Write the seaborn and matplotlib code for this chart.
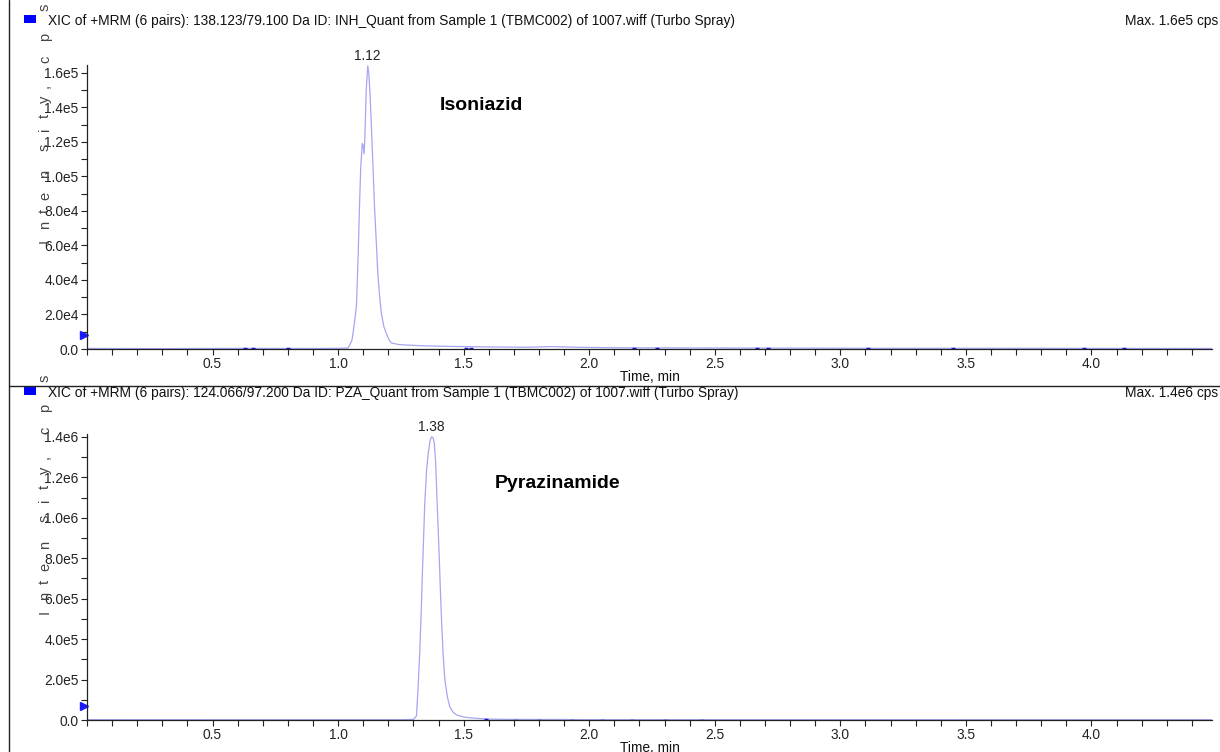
import matplotlib
matplotlib.use("Agg")
import matplotlib.pyplot as plt
import matplotlib.ticker as mticker
import matplotlib.transforms as mtransforms
from matplotlib.lines import Line2D
from matplotlib.patches import Rectangle
import seaborn as sns
import pandas as pd

# ---- data ----
inh_time = [0.00, 0.30, 0.60, 0.90, 1.00, 1.04, 1.055, 1.065, 1.073, 1.080, 1.085, 1.090,
            1.096, 1.100, 1.103, 1.106, 1.112, 1.118, 1.122, 1.127, 1.132, 1.139, 1.145,
            1.152, 1.158, 1.165, 1.172, 1.182, 1.192, 1.202, 1.212, 1.24, 1.27, 1.35,
            1.45, 1.60, 1.75, 1.85, 1.95, 2.10, 2.40, 2.80, 3.20, 3.60, 4.00, 4.48]
inh_intensity = [300, 250, 350, 300, 400, 600, 5000, 15000, 25000, 55000, 82000, 105000,
                 119000, 118000, 113000, 120000, 150000, 164000, 160000, 148000, 131000,
                 105000, 82000, 62000, 44000, 31000, 21000, 13000, 9000, 5500, 3500, 2600,
                 2300, 1800, 1500, 1200, 1000, 1400, 1000, 700, 600, 500, 400, 400, 350, 300]

pza_time = [0.00, 0.50, 1.00, 1.25, 1.30, 1.312, 1.318, 1.325, 1.331, 1.336, 1.345, 1.352,
            1.359, 1.366, 1.372, 1.378, 1.383, 1.388, 1.392, 1.397, 1.402, 1.407, 1.412,
            1.418, 1.425, 1.435, 1.445, 1.458, 1.472, 1.50, 1.525, 1.56, 1.59, 1.65, 1.80,
            2.00, 2.50, 3.00, 3.50, 4.00, 4.48]
pza_intensity = [2000, 1500, 1500, 1500, 3000, 20000, 150000, 330000, 540000, 740000,
                 1070000, 1230000, 1320000, 1380000, 1400000, 1395000, 1370000, 1280000,
                 1150000, 990000, 830000, 650000, 490000, 330000, 200000, 115000, 64000,
                 38000, 25000, 15000, 11000, 7500, 5000, 3500, 2500, 2000, 1800, 1600,
                 1500, 1500, 1500]

# darker blue noise bits along the baseline
inh_noise_t = [0.63, 0.66, 0.80, 1.51, 1.53, 2.18, 2.27, 2.67, 2.71, 3.11, 3.45, 3.97, 4.13]
inh_noise_y = [300, 300, 300, 600, 600, 300, 300, 300, 300, 300, 300, 300, 300]
pza_noise_t = [1.59, 1.71, 1.80, 1.93, 2.05, 2.17, 2.30, 2.45]
pza_noise_y = [2500, 2000, 1500, 1500, 1500, 1500, 1500, 1500]

inh_peak = 1.12
pza_peak = 1.38
inh_marker = 8000
pza_marker = 70000

inh_yticks = [0, 20000, 40000, 60000, 80000, 100000, 120000, 140000, 160000]
inh_ylabels = ["0.0", "2.0e4", "4.0e4", "6.0e4", "8.0e4", "1.0e5", "1.2e5", "1.4e5", "1.6e5"]
pza_yticks = [0, 200000, 400000, 600000, 800000, 1000000, 1200000, 1400000]
pza_ylabels = ["0.0", "2.0e5", "4.0e5", "6.0e5", "8.0e5", "1.0e6", "1.2e6", "1.4e6"]
xticks = [0.5, 1.0, 1.5, 2.0, 2.5, 3.0, 3.5, 4.0]

inh_header = "XIC of +MRM (6 pairs): 138.123/79.100 Da ID: INH_Quant from Sample 1 (TBMC002) of 1007.wiff (Turbo Spray)"
pza_header = "XIC of +MRM (6 pairs): 124.066/97.200 Da ID: PZA_Quant from Sample 1 (TBMC002) of 1007.wiff (Turbo Spray)"

inh_df = pd.DataFrame({"time": inh_time, "intensity": inh_intensity})
pza_df = pd.DataFrame({"time": pza_time, "intensity": pza_intensity})

sns.set_theme(style="ticks")
plt.rcParams["font.family"] = ["Liberation Sans", "DejaVu Sans"]
plt.rcParams["text.color"] = "#111111"

W, H = 1220, 752
fig = plt.figure(figsize=(12.2, 7.52), dpi=100)
fig.patch.set_facecolor("white")

trace_color = "#a6a6f2"
fs = 9.9

# the analyst-style stretched y label: letters and their offsets (px) up from "I"
label_letters = ["I", "n", "t", "e", "n", "s", "i", "t", "y", ",", "c", "p", "s"]
label_offsets = [0, 16, 30, 45, 67, 94, 112, 125, 142, 155, 182, 204, 234]


def px(x, y):
    return x / W, 1 - y / H


panels = [
    dict(df=inh_df, noise=(inh_noise_t, inh_noise_y), peak=inh_peak, mark=inh_marker,
         yt=inh_yticks, yl=inh_ylabels, ymax=164500, header=inh_header,
         maxlab="Max. 1.6e5 cps", name="Isoniazid", top=65, bottom=349, hy=21,
         name_xy=(440, 105), xl_y=377, lab_i=241),
    dict(df=pza_df, noise=(pza_noise_t, pza_noise_y), peak=pza_peak, mark=pza_marker,
         yt=pza_yticks, yl=pza_ylabels, ymax=1414000, header=pza_header,
         maxlab="Max. 1.4e6 cps", name="Pyrazinamide", top=434, bottom=720, hy=393,
         name_xy=(495, 483), xl_y=748, lab_i=612),
]

for p in panels:
    l, b = px(87, p["bottom"])
    _, t = px(87, p["top"])
    ax = fig.add_axes([l, b, 1212 / W - l, t - b])
    df = p["df"]
    sns.lineplot(data=df, x="time", y="intensity", ax=ax, color=trace_color,
                 linewidth=0.9, estimator=None)
    ax.plot(p["noise"][0], p["noise"][1], linestyle="none", marker="_",
            markersize=3.5, markeredgewidth=1.0, color="#1010d0")
    ax.set_xlim(0, 4.48)
    ax.set_ylim(0, p["ymax"])
    ax.set_xticks(xticks)
    ax.set_xticklabels([f"{v:.1f}" for v in xticks])
    ax.xaxis.set_minor_locator(mticker.MultipleLocator(0.1))
    ax.set_yticks(p["yt"])
    ax.set_yticklabels(p["yl"])
    ax.yaxis.set_minor_locator(mticker.MultipleLocator(p["yt"][1] / 2))
    ax.tick_params(which="both", direction="out", length=4, width=0.8,
                   color="#222222", labelsize=fs, labelcolor="#222222", pad=2)
    ax.set_xlabel("")
    ax.set_ylabel("")
    sns.despine(ax=ax)
    for s in ("left", "bottom"):
        ax.spines[s].set_linewidth(0.9)
        ax.spines[s].set_color("#222222")

    # peak apex label
    ymax_i = df["intensity"].idxmax()
    ax.annotate(f"{p['peak']:.2f}", (df["time"][ymax_i], df["intensity"][ymax_i]),
                xytext=(0, 2), textcoords="offset points", ha="center", va="bottom",
                fontsize=fs, color="#222222", annotation_clip=False)

    # blue threshold marker on the y axis
    trans = mtransforms.blended_transform_factory(ax.transAxes, ax.transData)
    ax.plot([-0.0025], [p["mark"]], marker=">", markersize=6, color="#1a1aff",
            transform=trans, clip_on=False)

    # compound name
    nx, ny = px(*p["name_xy"])
    fig.text(nx, ny, p["name"], fontsize=14, fontweight="bold", ha="left",
             va="center", color="black")

    # header row
    hx, hy = px(24, p["hy"] + 2)
    fig.add_artist(Rectangle((hx, hy), 12 / W, 8 / H, transform=fig.transFigure,
                             facecolor="#0000ff", edgecolor="none"))
    tx, ty = px(48, p["hy"])
    fig.text(tx, ty, p["header"], fontsize=fs, ha="left", va="center", color="#111111")
    mx, my = px(1218, p["hy"])
    fig.text(mx, my, p["maxlab"], fontsize=fs, ha="right", va="center", color="#111111")

    # x axis title
    lx, ly = px(650, p["xl_y"])
    fig.text(lx, ly, "Time, min", fontsize=fs, ha="center", va="center", color="#111111")

    # spaced-out vertical y label
    for ch, off in zip(label_letters, label_offsets):
        cx, cy = px(45, p["lab_i"] - off)
        fig.text(cx, cy, ch, fontsize=10.5, rotation=90, ha="center", va="center",
                 color="#444444")

# frame lines of the report page
fig.add_artist(Line2D([9 / W, 9 / W], [0, 1], transform=fig.transFigure,
                      color="#222222", linewidth=1.0))
fig.add_artist(Line2D([9 / W, 1], [1 - 386 / H, 1 - 386 / H], transform=fig.transFigure,
                      color="#222222", linewidth=1.0))

fig.savefig("out.png", dpi=100, facecolor="white")
